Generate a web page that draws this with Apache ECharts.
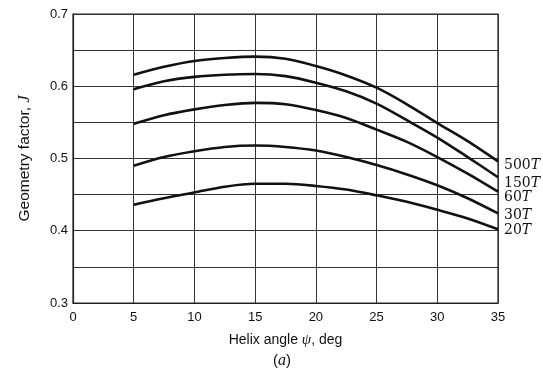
<!DOCTYPE html>
<html lang="en">
<head>
    <meta charset="UTF-8">
    <title>Geometry factor J</title>
    <script src="https://cdn.jsdelivr.net/npm/echarts@6/dist/echarts.min.js"></script>
    <style>
        body { margin: 0; background: #fff; }
    </style>
</head>
<body>
        <div id="main" style="width: 543px;height:371px;"></div>
        <script type="text/javascript">
            // helix angle (deg), read every 2.5 deg off the curves
            var angles = [5, 7.5, 10, 12.5, 15, 17.5, 20, 22.5, 25, 27.5, 30, 32.5, 35];
            // curve labels (number of teeth of mating gear)
            var curveNames = ['500', '150', '60', '30', '20'];
            var j500 = [0.616, 0.627, 0.635, 0.639, 0.641, 0.638, 0.628, 0.615, 0.598, 0.575, 0.549, 0.524, 0.496];
            var j150 = [0.596, 0.607, 0.613, 0.616, 0.617, 0.614, 0.605, 0.593, 0.576, 0.553, 0.529, 0.502, 0.474];
            var j60  = [0.548, 0.560, 0.568, 0.574, 0.577, 0.575, 0.567, 0.556, 0.540, 0.523, 0.502, 0.479, 0.454];
            var j30  = [0.490, 0.502, 0.510, 0.516, 0.518, 0.516, 0.511, 0.502, 0.491, 0.478, 0.463, 0.445, 0.424];
            var j20  = [0.436, 0.445, 0.453, 0.461, 0.465, 0.465, 0.462, 0.457, 0.449, 0.440, 0.429, 0.417, 0.402];
            var curves = [j500, j150, j60, j30, j20];
            // small vertical nudges so the end labels don't collide
            var labelNudge = [4, 6, 6, 2, 1];

            var myChart = echarts.init(document.getElementById('main'));

            var series = [];
            for (var i = 0; i < curves.length; i++) {
                var pts = [];
                for (var k = 0; k < angles.length; k++) {
                    pts.push([angles[k], curves[i][k]]);
                }
                series.push({
                    name: curveNames[i] + 'T',
                    type: 'line',
                    data: pts,
                    smooth: 0.3,
                    symbol: 'none',
                    lineStyle: { color: '#111', width: 2.6 },
                    endLabel: {
                        show: true,
                        distance: 6,
                        offset: [0, labelNudge[i]],
                        formatter: '{n|' + curveNames[i] + '}{t|T}',
                        rich: {
                            n: { fontFamily: 'DejaVu Serif', fontSize: 14, color: '#111' },
                            t: { fontFamily: 'DejaVu Serif', fontSize: 14, fontStyle: 'italic', color: '#111' }
                        }
                    },
                    emphasis: { disabled: true }
                });
            }

            var option = {
                animation: false,
                grid: {
                    left: 73, right: 45, top: 14, bottom: 68,
                    show: true, borderColor: '#222', borderWidth: 1.2
                },
                xAxis: {
                    type: 'value',
                    min: 0, max: 35, interval: 5,
                    name: 'Helix angle {i|ψ}, deg',
                    nameLocation: 'middle',
                    nameGap: 30,
                    nameTextStyle: {
                        fontFamily: 'Liberation Sans', fontSize: 14, color: '#111',
                        rich: { i: { fontFamily: 'Liberation Serif', fontStyle: 'italic', fontSize: 15, color: '#111' } }
                    },
                    axisLine: { lineStyle: { color: '#222', width: 1.2 } },
                    axisTick: { show: false },
                    axisLabel: { fontFamily: 'Liberation Sans', fontSize: 13, color: '#111', margin: 8 },
                    splitLine: { show: true, lineStyle: { color: '#333', width: 1 } }
                },
                yAxis: {
                    type: 'value',
                    min: 0.3, max: 0.7, interval: 0.05,
                    name: 'Geometry factor, {i|J}',
                    nameLocation: 'middle',
                    nameGap: 40,
                    nameRotate: 90,
                    nameTextStyle: {
                        fontFamily: 'Liberation Sans', fontSize: 15.5, color: '#111',
                        rich: { i: { fontFamily: 'Liberation Serif', fontStyle: 'italic', fontSize: 16, color: '#111' } }
                    },
                    axisLine: { show: true, lineStyle: { color: '#222', width: 1.2 } },
                    axisTick: { show: false },
                    axisLabel: {
                        fontFamily: 'Liberation Sans', fontSize: 13, color: '#111', margin: 5,
                        formatter: function (v) {
                            var r = Math.round(v * 100);
                            return r % 10 === 0 ? (r / 100).toFixed(1) : '';
                        }
                    },
                    splitLine: { show: true, lineStyle: { color: '#333', width: 1 } }
                },
                graphic: [{
                    type: 'text',
                    left: 273, top: 353,
                    style: {
                        text: '({i|a})',
                        font: '15px "Liberation Sans"',
                        fill: '#111',
                        rich: { i: { fontFamily: 'Liberation Serif', fontStyle: 'italic', fontSize: 16, fill: '#111' } }
                    }
                }],
                series: series
            };
            myChart.setOption(option);
        </script>

</body>
</html>
